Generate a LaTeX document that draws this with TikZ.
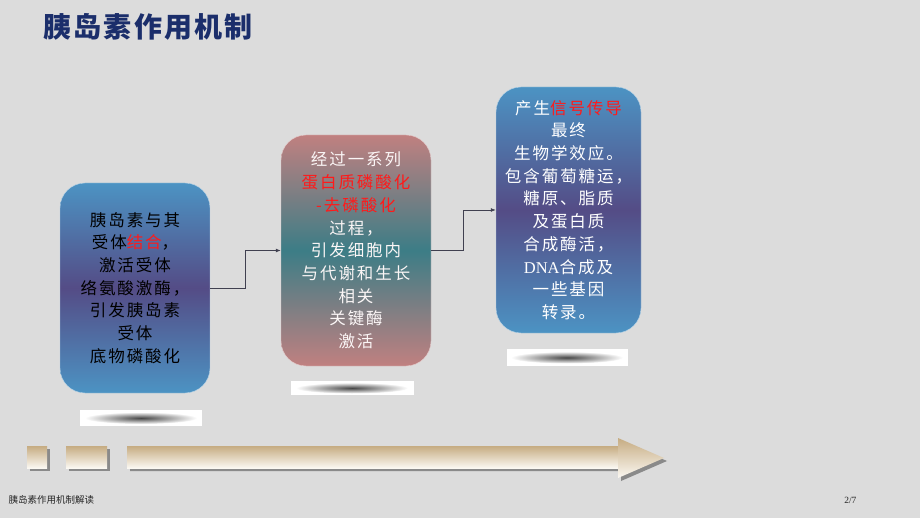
\documentclass[tikz,border=0pt]{standalone}
\usepackage{fontspec}
\newfontfamily\cjk{Noto Sans CJK SC}[LetterSpace=12]
\newfontfamily\cjktitle{Noto Sans CJK SC}[LetterSpace=8]
\newfontfamily\cjksmall{Noto Sans CJK SC}
\newfontfamily\latserif{Liberation Serif}
\definecolor{bgc}{HTML}{DCDCDC}
\definecolor{titlec}{HTML}{1B2E6B}
\definecolor{bluec}{HTML}{4C93C3}
\definecolor{purplec}{HTML}{544C86}
\definecolor{pinkc}{HTML}{C08080}
\definecolor{tealc}{HTML}{3C7D86}
\definecolor{tanc}{HTML}{C6AC82}
\definecolor{creamc}{HTML}{FBF8F2}
\definecolor{shadowc}{HTML}{8A8A8A}
\definecolor{linec}{HTML}{404050}
\definecolor{hl}{HTML}{FF1A1A}
\usetikzlibrary{arrows.meta}
\tikzset{
  x=1pt, y=-1pt,
  boxtext/.style={inner sep=0pt, align=center,
    font=\cjk\fontsize{16.5}{22.7}\selectfont},
  boxshape/.style={rounded corners=25pt, draw=white!60!bluec, line width=0.4pt},
  bluebox/.style={boxshape, top color=bluec, bottom color=bluec, middle color=purplec},
  pinkbox/.style={boxshape, draw=white!60!pinkc, top color=pinkc, bottom color=pinkc, middle color=tealc},
  conn/.style={draw=linec, line width=0.8pt, -{Latex[length=5pt,width=4pt]}},
  strip/.style={fill=white, draw=none},
  blur/.style={inner color=black!72, outer color=white},
  ribbon/.style={top color=tanc, bottom color=creamc, draw=none},
  ribshadow/.style={fill=shadowc, draw=none}
}
\begin{document}
\begin{tikzpicture}
\useasboundingbox[fill=bgc] (0,0) rectangle (920,518);

% title
\node[anchor=west, text=titlec, font=\cjktitle\bfseries\fontsize{28}{30}\selectfont] (title) at (40,27) {胰岛素作用机制};

% box shapes
\shade[bluebox] (60,183) rectangle (210,393);
\shade[pinkbox] (281,135) rectangle (431,366);
\shade[bluebox] (496,87) rectangle (641,333);

% box texts
\node[boxtext, text=black, minimum width=150pt, minimum height=210pt] (b1) at (135,288)
  {胰岛素与其\\受体{\color{hl}结合}，\\激活受体\\络氨酸激酶，\\引发胰岛素\\受体\\底物磷酸化};
\node[boxtext, text=white!93!pinkc, minimum width=150pt, minimum height=231pt] (b2) at (356,250.5)
  {经过一系列\\{\color{hl}蛋白质磷酸化}\\{\color{hl}-去磷酸化}\\过程，\\引发细胞内\\与代谢和生长\\相关\\关键酶\\激活};
\node[boxtext, text=white, minimum width=145pt, minimum height=246pt] (b3) at (568.5,210)
  {产生{\color{hl}信号传导}\\最终\\生物学效应。\\包含葡萄糖运，\\糖原、脂质\\及蛋白质\\合成酶活，\\{\latserif DNA}合成及\\一些基因\\转录。};

% connectors
\draw[conn] (b1.east) -- ++(35,0) |- (b2.west);
\draw[conn] (b2.east) -- ++(32,0) |- (b3.west);

% blurred reflection strips
\fill[strip] (80,410) rectangle (202,426);
\shade[blur] (141,418) ellipse [x radius=56pt, y radius=6pt];
\fill[strip] (291,381) rectangle (414,395);
\shade[blur] (352,388) ellipse [x radius=56pt, y radius=5.5pt];
\fill[strip] (507,349) rectangle (628,366);
\shade[blur] (567,357.5) ellipse [x radius=56pt, y radius=6pt];

% bottom ribbon
\fill[ribshadow] (30,449) rectangle (50,471);
\fill[ribshadow] (69,449) rectangle (110,471);
\fill[ribshadow] (130,449) -- (621,449) -- (621,441) -- (667,461) -- (621,481) -- (621,471) -- (130,471) -- cycle;
\shade[ribbon] (27,446) rectangle (47,468);
\shade[ribbon] (66,446) rectangle (107,468);
\shade[ribbon] (127,446) rectangle (618.5,468);
\shade[ribbon] (618,438) -- (664,458) -- (618,478) -- cycle;

% footer
\node[anchor=west, font=\cjksmall\fontsize{9.5}{11}\selectfont, text=black!85] (foot) at (5,500) {胰岛素作用机制解读};
\node[anchor=east, font=\latserif\fontsize{9.5}{11}\selectfont, text=black!85] (page) at (860,500) {2/7};
\end{tikzpicture}
\end{document}
